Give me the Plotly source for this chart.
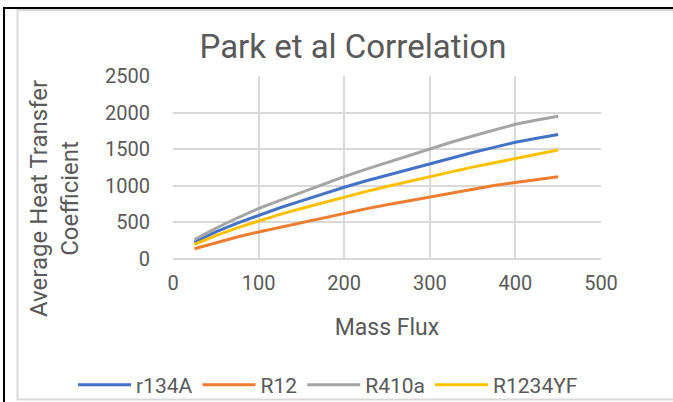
import plotly.graph_objects as go

mass_flux = [25, 50, 75, 100, 125, 150, 175, 200, 225, 250, 275, 300, 325, 350, 375, 400, 425, 450]
r134a = [230, 370, 490, 600, 700, 795, 890, 980, 1065, 1145, 1225, 1305, 1385, 1455, 1525, 1595, 1650, 1700]
r12 = [140, 225, 300, 370, 435, 500, 565, 625, 685, 740, 795, 850, 905, 955, 1005, 1045, 1090, 1125]
r410a = [265, 420, 560, 690, 800, 910, 1020, 1125, 1225, 1320, 1415, 1505, 1595, 1680, 1760, 1840, 1900, 1950]
r1234yf = [200, 320, 425, 520, 610, 690, 770, 845, 920, 990, 1060, 1125, 1190, 1255, 1315, 1375, 1435, 1490]

series = [
    ("r134A", r134a, "#4472C4"),
    ("R12", r12, "#ED7D31"),
    ("R410a", r410a, "#A5A5A5"),
    ("R1234YF", r1234yf, "#FFC000"),
]

FONT = "Roboto, Liberation Sans, sans-serif"
TXT = "#595959"

fig = go.Figure()
for name, vals, col in series:
    fig.add_trace(go.Scatter(x=mass_flux, y=vals, mode="lines", name=name,
                             line=dict(color=col, width=3)))

W, H = 673, 402
L, R, T, B = 173, 72, 76, 143
pw, ph = W - L - R, H - T - B

def px(x):
    return (x - L) / pw

def py(y):
    return (H - B - y) / ph

fig.update_layout(
    width=W, height=H,
    margin=dict(l=L, r=R, t=T, b=B, autoexpand=False),
    paper_bgcolor="white", plot_bgcolor="white",
    font=dict(family=FONT, color=TXT, size=20),
    title=dict(text="Park et al Correlation", xref="container", x=353 / W, xanchor="center",
               yref="container", y=1 - 46 / H, yanchor="middle",
               font=dict(size=33, color=TXT, family=FONT)),
    xaxis=dict(range=[0, 500], dtick=100, showgrid=True, gridcolor="#D9D9D9", gridwidth=1.5,
               zeroline=False, showline=False, ticks="", ticklabelstandoff=10, automargin=False,
               tickfont=dict(size=20, color=TXT),
               title=dict(text="Mass Flux", font=dict(size=23, color=TXT), standoff=24)),
    yaxis=dict(range=[0, 2500], dtick=500, showgrid=True, gridcolor="#D9D9D9", gridwidth=1.5,
               zeroline=True, zerolinecolor="#D9D9D9", zerolinewidth=1.5, showline=False,
               ticks="", ticklabelstandoff=22, automargin=False,
               tickfont=dict(size=20, color=TXT)),
    legend=dict(orientation="h", x=px(73), xanchor="left", y=py(385), yanchor="middle",
                itemwidth=53, font=dict(size=21, color=TXT), bgcolor="rgba(0,0,0,0)"),
    showlegend=True,
)

fig.add_annotation(text="Average Heat Transfer<br>Coefficient", textangle=-90,
                   xref="paper", yref="paper", x=px(54), y=py(199),
                   xanchor="center", yanchor="middle", showarrow=False,
                   font=dict(size=24, color=TXT, family=FONT))

# chart area border (light gray) and black frame lines
fig.add_shape(type="rect", xref="paper", yref="paper",
              x0=px(17.5), x1=px(690), y0=py(399.5), y1=py(10),
              line=dict(color="#D9D9D9", width=2), layer="below")
fig.add_shape(type="line", xref="paper", yref="paper",
              x0=px(4), x1=px(4), y0=py(7), y1=py(410),
              line=dict(color="black", width=2))
fig.add_shape(type="line", xref="paper", yref="paper",
              x0=px(3), x1=px(690), y0=py(8), y1=py(8),
              line=dict(color="black", width=2))

fig.write_html("out.html")
